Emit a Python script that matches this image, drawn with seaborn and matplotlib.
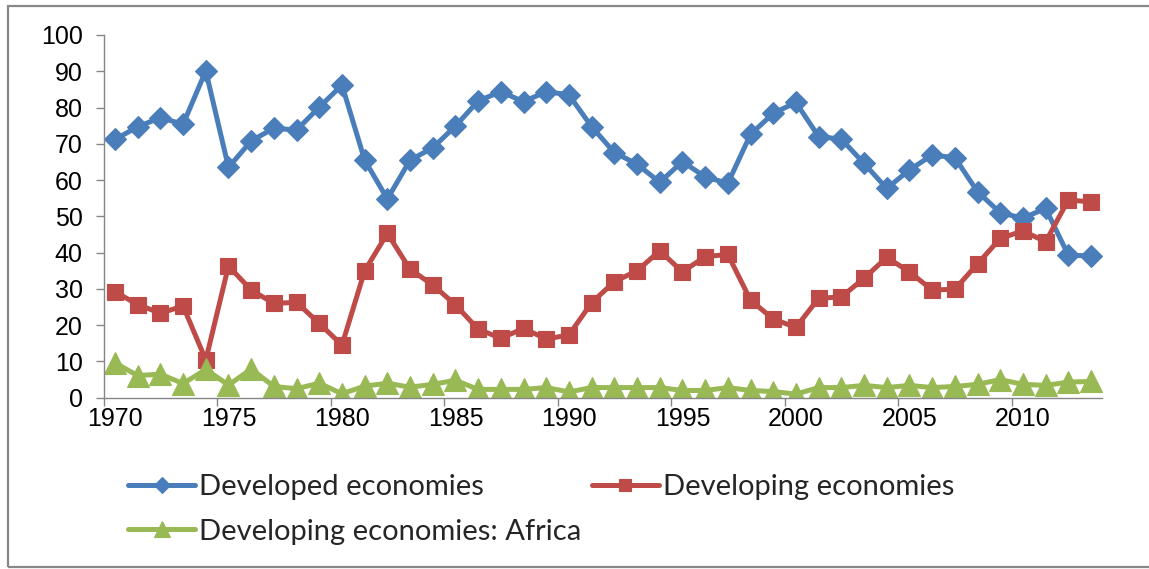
import matplotlib
matplotlib.use("Agg")
import matplotlib.pyplot as plt
from matplotlib.patches import Rectangle
import seaborn as sns
import pandas as pd
import numpy as np

years = list(range(1970, 2014))
developed = [71.2, 74.7, 77.2, 75.4, 90.1, 63.5, 70.8, 74.3, 73.8, 80.1,
             86.2, 65.5, 54.8, 65.5, 68.9, 74.9, 81.8, 84.4, 81.6, 84.4,
             83.5, 74.7, 67.6, 64.4, 59.4, 65.1, 60.9, 59.1, 72.6, 78.4,
             81.4, 72.0, 71.3, 64.6, 57.7, 62.8, 66.9, 66.2, 56.8, 51.0,
             49.5, 52.2, 39.3, 39.1]
developing = [29.2, 25.7, 23.3, 25.3, 10.4, 36.3, 29.7, 26.0, 26.3, 20.5,
              14.5, 35.0, 45.3, 35.4, 31.1, 25.6, 18.9, 16.4, 19.1, 16.2,
              17.3, 26.2, 32.0, 35.0, 40.5, 34.7, 38.9, 39.5, 26.9, 21.7,
              19.4, 27.4, 27.8, 32.9, 38.7, 34.7, 29.7, 29.9, 36.9, 43.9,
              46.0, 43.0, 54.5, 54.0]
africa = [9.6, 6.1, 6.5, 3.9, 7.8, 3.5, 7.9, 3.1, 2.5, 4.0,
          1.1, 3.2, 4.0, 2.9, 3.7, 4.8, 2.3, 2.3, 2.3, 2.8,
          1.6, 2.8, 2.8, 2.8, 2.8, 2.0, 2.0, 2.8, 2.0, 1.7,
          1.0, 2.8, 2.8, 3.4, 2.8, 3.4, 2.8, 3.1, 3.7, 5.0,
          3.7, 3.4, 4.3, 4.5]
series_names = ["Developed economies", "Developing economies",
                "Developing economies: Africa"]
y_ticks = list(range(0, 101, 10))
x_tick_labels = [str(y) for y in range(1970, 2011, 5)]

colors = ["#4A7EBB", "#BE4B48", "#98B954"]
markers = ["D", "s", "^"]
msizes = [11, 11.5, 16]

sns.set_style("white")
plt.rcParams["font.family"] = ["Liberation Sans", "DejaVu Sans"]

fig = plt.figure(figsize=(11.49, 5.69), dpi=100)
ax = fig.add_axes([0.0902, 0.3010, 0.8692, 0.6375])

pos = np.arange(len(years))
for name, vals, c, m, ms in zip(series_names, [developed, developing, africa],
                                 colors, markers, msizes):
    df = pd.DataFrame({"pos": pos, "value": vals})
    sns.lineplot(data=df, x="pos", y="value", ax=ax, color=c, linewidth=3.6,
                 marker=m, markersize=ms, markeredgecolor=c,
                 markeredgewidth=0.8, label=name, legend=False)

ax.set_xlim(-0.5, len(years) - 0.5)
ax.set_ylim(0, 100)
ax.set_yticks(y_ticks)
ax.set_yticklabels([str(v) for v in y_ticks])
ax.set_xticks(list(range(0, 41, 5)))
ax.set_xticklabels(x_tick_labels)
ax.set_xticks(np.arange(-0.5, len(years), 5), minor=True)
ax.set_xlabel("")
ax.set_ylabel("")

for s in ["top", "right"]:
    ax.spines[s].set_visible(False)
for s in ["left", "bottom"]:
    ax.spines[s].set_color("#868686")
    ax.spines[s].set_linewidth(1.0)

ax.tick_params(axis="y", which="major", left=True, length=6, width=1,
               color="#868686", labelsize=18, pad=9, labelcolor="black")
ax.tick_params(axis="x", which="major", bottom=False, length=0,
               labelsize=18, pad=7, labelcolor="black")
ax.tick_params(axis="x", which="minor", bottom=True, length=6, width=1,
               color="#868686")
ax.grid(False)

handles, labels = ax.get_legend_handles_labels()
order = [0, 2, 1]
leg = fig.legend([handles[i] for i in order], [labels[i] for i in order],
                 ncol=2, loc="center left",
                 bbox_to_anchor=(0.1114, 0.1046), frameon=False,
                 borderpad=0, borderaxespad=0, handlelength=2.3,
                 handletextpad=0.15, columnspacing=0.35, labelspacing=0.62,
                 markerscale=0.75,
                 prop={"family": ["Lato", "DejaVu Sans"], "size": 21})

frame = Rectangle((8 / 1149, 2 / 569), 1.05, 1 - 8 / 569,
                  transform=fig.transFigure, fill=False,
                  edgecolor="#888888", linewidth=1.6)
fig.patches.append(frame)

fig.savefig("out.png", dpi=100)
